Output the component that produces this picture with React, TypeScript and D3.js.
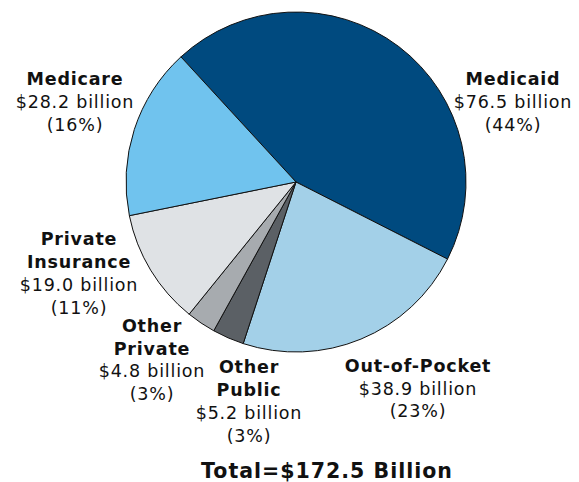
import { useEffect, useRef } from "react";
import * as d3 from "d3";

// source of funds, clockwise from Medicaid
const categories = ["Medicaid", "Out-of-Pocket", "Other Public", "Other Private", "Private Insurance", "Medicare"];
const values = [76.5, 38.9, 5.2, 4.8, 19.0, 28.2];
const percents = ["44%", "23%", "3%", "3%", "11%", "16%"];
const nameLines = [["Medicaid"], ["Out-of-Pocket"], ["Other", "Public"], ["Other", "Private"], ["Private", "Insurance"], ["Medicare"]];
const totalLabel = "Total=$172.5 Billion";

const colors = ["#004a7f", "#a3d0e8", "#5b6065", "#a7abaf", "#dfe2e5", "#70c3ee"];

// label anchors (center x, first baseline y, line step)
const labelLayout: Record<string, { x: number; y: number; step: number }> = {
    Medicaid: { x: 513, y: 85, step: 23 },
    "Out-of-Pocket": { x: 418, y: 372, step: 22.5 },
    "Other Public": { x: 249, y: 373, step: 23 },
    "Other Private": { x: 152, y: 332, step: 22.5 },
    "Private Insurance": { x: 79, y: 245, step: 23 },
    Medicare: { x: 75, y: 85, step: 23 },
};

const App = () => {
    const chartRef = useRef<SVGSVGElement | null>(null);

    useEffect(() => {
        if (!chartRef.current) return;
        d3.select(chartRef.current).selectAll("*").remove();

        const width = 579;
        const height = 482;
        const cx = 296;
        const cy = 182;
        const radius = 170;

        const svg = d3.select(chartRef.current).attr("width", width).attr("height", height);

        const start = (-42.6 * Math.PI) / 180;
        const pie = d3
            .pie<number>()
            .sort(null)
            .value((d) => d)
            .startAngle(start)
            .endAngle(start + 2 * Math.PI);

        const arc = d3.arc<d3.PieArcDatum<number>>().innerRadius(0).outerRadius(radius);

        svg.append("g")
            .attr("transform", `translate(${cx},${cy})`)
            .selectAll("path")
            .data(pie(values))
            .enter()
            .append("path")
            .attr("d", arc)
            .attr("fill", (_, i) => colors[i])
            .attr("stroke", "#111")
            .attr("stroke-width", 1)
            .attr("stroke-linejoin", "round");

        const font = "'DejaVu Sans', sans-serif";

        categories.forEach((c, i) => {
            const lay = labelLayout[c];
            const t = svg
                .append("text")
                .attr("text-anchor", "middle")
                .attr("font-family", font)
                .attr("font-size", 17.5)
                .attr("letter-spacing", 0.8)
                .attr("fill", "#111");
            const lines = [
                ...nameLines[i].map((s) => ({ s, bold: true })),
                { s: `$${values[i].toFixed(1)} billion`, bold: false },
                { s: `(${percents[i]})`, bold: false },
            ];
            lines.forEach((l, j) => {
                t.append("tspan")
                    .attr("x", lay.x)
                    .attr("y", lay.y + j * lay.step)
                    .attr("font-weight", l.bold ? "bold" : "normal")
                    .text(l.s);
            });
        });

        svg.append("text")
            .attr("x", 327)
            .attr("y", 478)
            .attr("text-anchor", "middle")
            .attr("font-family", font)
            .attr("font-size", 20.5)
            .attr("font-weight", "bold")
            .attr("letter-spacing", 1)
            .attr("fill", "#111")
            .text(totalLabel);
    }, []);

    return (
        <div style={{ position: "absolute", left: 0, top: 0 }}>
            <svg ref={chartRef} style={{ display: "block" }}></svg>
        </div>
    );
};

export default App;
